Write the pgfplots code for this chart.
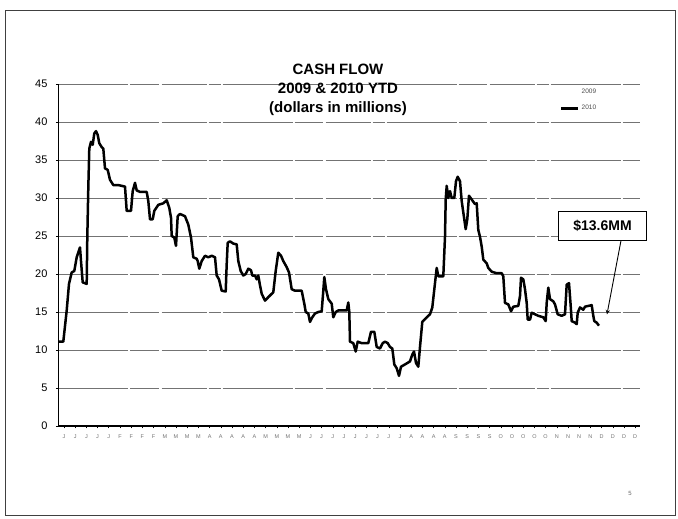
\documentclass[border=0pt]{standalone}
\usepackage{fontspec}
\setmainfont{Liberation Sans}
\usepackage{pgfplots}
\pgfplotsset{compat=1.18}
\begin{document}
\begin{tikzpicture}[x=1pt,y=1pt]
\path[use as bounding box] (-58.5,-93) rectangle (619.5,426);
\draw[line width=0.9pt, black!75] (-53.5,-89) rectangle (616.5,416);
\begin{axis}[
  at={(0,0)}, anchor=south west,
  scale only axis, width=581.5pt, height=342pt,
  xmin=58.5, xmax=640, ymin=0, ymax=45,
  axis x line*=bottom, axis y line*=left,
  x axis line style={line width=1.4pt, -},
  y axis line style={line width=0.8pt, -},
  ytick={0,5,...,45},
  ymajorgrids,
  grid style={black!55, line width=0.7pt, dash pattern=on 70pt off 2pt on 28pt off 3pt on 45pt off 2pt on 12pt off 2pt},
  yticklabel style={font=\fontsize{11}{13}\selectfont, xshift=-5pt},
  /pgf/number format/assume math mode=true,
  xtick={64,75.2,...,636},
  xticklabels={J,J,J,J,J,F,F,F,F,M,M,M,M,A,A,A,A,A,M,M,M,M,J,J,J,J,J,J,J,J,J,A,A,A,A,S,S,S,S,O,O,O,O,O,N,N,N,N,D,D,D,D},
  xticklabel style={font=\fontsize{5.5}{6}\selectfont, text=black!55, yshift=-3pt},
  tick align=outside, major tick length=2.5pt,
  tick style={black, line width=0.6pt},
  legend style={at={(axis cs:560,44.6)}, anchor=north west, draw=none, fill=none,
    font=\fontsize{6.5}{7}\selectfont, row sep=6pt, inner sep=0pt, text=black!70},
  legend cell align=left,
  legend image code/.code={\draw[#1] (0pt,0pt) -- (17pt,0pt);},
  clip=false,
]
\addlegendimage{white, line width=2pt}
\addlegendentry{2009}
\addplot[black, line width=2.5pt, line join=round] coordinates {
(59,11.1) (63.3,11.1) (66.7,15.2) (69,18.7) (71.7,20.2) (74.3,20.4) (76.7,22.2) (80,23.5) (81,21.7) (82.7,18.9) (86.7,18.7) (87.3,24.8) (88.3,31.3) (89.3,36.5) (91,37.4) (92.7,37.0) (94.3,38.5) (96,38.8) (97.7,38.3) (99.3,37.2) (101.7,36.7) (103.3,36.5) (105,33.9) (107.7,33.7) (110,32.4) (113.3,31.7) (118.3,31.7) (125,31.5) (126.7,28.3) (131,28.3) (132.7,30.9) (135,32.0) (136.7,31.0) (140,30.8) (146.7,30.8) (148.3,29.6) (150,27.2) (152.7,27.2) (154.3,28.3) (158.3,29.1) (163.3,29.3) (166.7,29.7) (169.3,28.7) (171,27.4) (171.7,25.0) (174.3,24.8) (176,23.7) (177.7,27.6) (180,27.9) (185,27.6) (188.3,26.5) (191,24.8) (193.3,22.2) (196.7,22.0)
(197.7,21.7) (199.3,20.7) (201.7,21.7) (205,22.4) (208.3,22.2) (211.7,22.4) (215,22.2) (216.7,19.8) (219,19.3) (221.7,17.8) (225.7,17.7) (226.7,21.3) (227.7,24.1) (230,24.3) (233.3,24.0) (236.7,23.9) (238.3,21.7) (240.7,20.4) (243.3,19.8) (245.7,20.0) (248.3,20.7) (251,20.5) (252.3,19.8) (255,19.8) (256.7,19.3) (258.3,19.8) (260,18.5) (261.7,17.4) (265,16.5) (268.3,16.95) (273.3,17.6) (275.7,20.4) (278.3,22.8) (281,22.4) (283.3,21.7) (286.7,20.9) (289,20.2) (291.7,18.0) (295,17.8) (301.7,17.8) (304.3,16.1) (305.7,15.0) (308.3,14.8) (310,13.7) (312.3,14.3) (315,14.8) (318.3,15.0) (321.7,15.1) (323.3,17.8) (324.3,19.6) (326,18.0) (328.3,16.7) (331.7,16.1) (333.3,14.3) (335.7,15.0)
(338.3,15.2) (346.7,15.2) (348.3,16.25) (349.3,15.0) (350,11.1) (353.3,10.9) (355.7,9.8) (357.7,11.1) (361.7,10.9) (368.3,10.9) (371,12.4) (374.3,12.4) (376.7,10.4) (380,10.2) (382.7,10.9) (385,11.1) (387.7,10.9) (390,10.4) (392.3,10.2) (394.3,8.1) (396.7,7.6) (399,6.6) (401,7.8) (405,8.1) (410,8.5) (412.3,9.4) (414,9.8) (416,8.3) (418.3,7.8) (420,10.4) (422.3,13.7) (426.7,14.3) (430,14.7) (432.3,15.6) (435,18.8) (436.7,20.8) (438.3,19.7) (443.3,19.7) (445,24.9) (445.7,29.8) (446.7,31.6) (448.3,30.0) (450,30.9) (451.7,30.0) (454.3,30.0) (456,32.2) (457.7,32.8) (460,32.2) (461.7,29.6) (463.3,28.1) (465.7,25.9) (467.3,27.2) (469,30.3) (471.7,29.8) (475,29.2)
(476.7,29.3) (478.3,25.8) (480,24.9) (481.7,23.6) (483.3,21.9) (486.7,21.4) (488.3,20.8) (491.7,20.3) (496.7,20.1) (501.7,20.1) (503.3,19.7) (505,16.2) (508.3,16.0) (511,15.1) (513.3,15.7) (518.3,15.8) (520,17.1) (521,19.5) (523.3,19.3) (525,18.0) (526.7,16.2) (527.7,14.0) (530,14.0) (531.7,14.9) (535,14.7) (538.3,14.5) (543.3,14.3) (545.7,13.8) (546.7,16.2) (548.3,18.2) (550,16.7) (553.3,16.4) (555,16.0) (557.7,14.7) (561.7,14.5) (565,14.7) (566.7,18.6) (569,18.8) (570.7,15.8) (571.7,13.8) (575,13.6) (576.7,13.4) (577.7,14.9) (580,15.6) (583.3,15.3) (585,15.7) (588.3,15.8) (591.7,15.9) (593.3,14.5) (594.3,13.8) (596.7,13.6) (599,13.2)
};
\addlegendentry{2010}
\node[draw=black, line width=1.6pt, fill=white, minimum width=88pt, minimum height=29pt, inner sep=0pt,
  font=\fontsize{14}{16}\selectfont\bfseries] (cb) at (axis cs:602.5,26.3) {\$13.6MM};
\draw[black, line width=0.9pt, -stealth] (axis cs:621,24.4) -- (axis cs:607,14.7);
\end{axis}
\node[align=center, font=\fontsize{15}{19}\selectfont\bfseries] at (279.5,336) {CASH FLOW\\2009 \& 2010 YTD\\(dollars in millions)};
\node[font=\fontsize{6}{7}\selectfont, text=black!60] at (571.5,-67) {5};
\end{tikzpicture}
\end{document}
